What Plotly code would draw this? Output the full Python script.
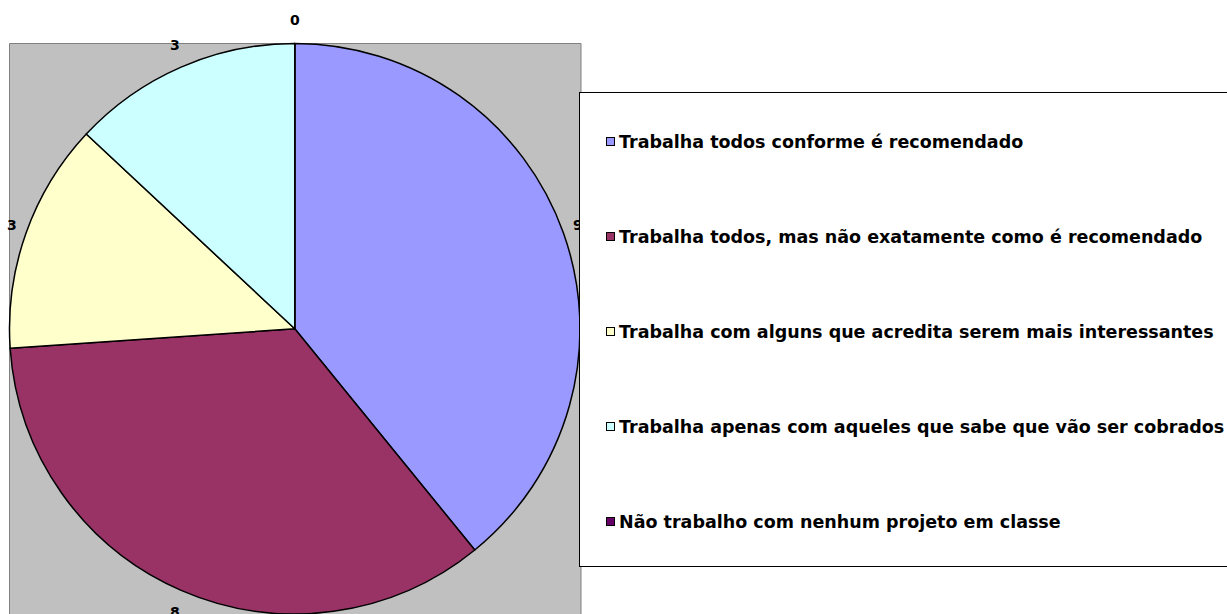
import math
import plotly.graph_objects as go

W, H = 1227, 614

categories = [
    "Trabalha todos conforme é recomendado",
    "Trabalha todos, mas não exatamente como é recomendado",
    "Trabalha com alguns que acredita serem mais interessantes",
    "Trabalha apenas com aqueles que sabe que vão ser cobrados",
    "Não trabalho com nenhum projeto em classe",
]
values = [9, 8, 3, 3, 0]
colors = ["#9999FF", "#993366", "#FFFFCC", "#CCFFFF", "#660066"]

# plot-area geometry (pixels)
PA_L, PA_R, PA_T = 9.5, 581.0, 43.5
dom_x = [8.5 / W, 581.0 / W]
dom_y = [0.0, 1 - 43.5 / H]
R = min((dom_x[1] - dom_x[0]) * W, (dom_y[1] - dom_y[0]) * H) / 2
CX = (dom_x[0] + dom_x[1]) / 2 * W
CY = (1 - (dom_y[0] + dom_y[1]) / 2) * H

fig = go.Figure()
fig.add_trace(go.Pie(
    labels=categories,
    values=values,
    sort=False,
    direction="clockwise",
    rotation=0,
    marker=dict(colors=colors, line=dict(color="#000000", width=1.5)),
    textinfo="none",
    hoverinfo="label+value",
    domain=dict(x=dom_x, y=dom_y),
    showlegend=False,
))

annotations = []
# data labels placed along each slice's mid-angle, just outside the pie
total = sum(values)
cum = 0
lab_font = dict(family="DejaVu Sans", size=14, color="#000000")
for v in values:
    mid = (cum + v / 2) / total * 2 * math.pi
    cum += v
    px = CX + (R + 15) * math.sin(mid)
    py = CY - (R + 24) * math.cos(mid)
    annotations.append(dict(
        x=px / W, y=1 - py / H, xref="paper", yref="paper",
        text=f"<b>{v}</b>", showarrow=False, font=lab_font,
        xanchor="center", yanchor="middle",
    ))

# legend box (drawn after labels so it overlaps them, as in the original)
LG_L, LG_T, LG_B = 578.5, 91.5, 566.5
annotations.append(dict(
    x=LG_L / W, y=1 - LG_T / H, xref="paper", yref="paper",
    xanchor="left", yanchor="top", text=" ", showarrow=False,
    width=700, height=LG_B - LG_T - 2, borderpad=0,
    bgcolor="#FFFFFF", bordercolor="#000000", borderwidth=1,
))
leg_font = dict(family="DejaVu Sans", size=17.5, color="#000000")
for i, (cat, col) in enumerate(zip(categories, colors)):
    yc = 141.5 + 95 * i
    annotations.append(dict(
        x=610 / W, y=1 - yc / H, xref="paper", yref="paper",
        xanchor="center", yanchor="middle", text=" ", showarrow=False,
        width=7, height=7, borderpad=0, font=dict(size=4),
        bgcolor=col, bordercolor="#000000", borderwidth=1,
    ))
    annotations.append(dict(
        x=617 / W, y=1 - yc / H, xref="paper", yref="paper",
        xanchor="left", yanchor="middle", text=f"<b>{cat}</b>",
        showarrow=False, font=leg_font,
    ))

fig.update_layout(
    width=W, height=H,
    margin=dict(l=0, r=0, t=0, b=0),
    paper_bgcolor="#FFFFFF",
    plot_bgcolor="#FFFFFF",
    showlegend=False,
    shapes=[dict(
        type="rect", xref="paper", yref="paper",
        x0=PA_L / W, x1=PA_R / W, y0=-0.01, y1=1 - PA_T / H,
        fillcolor="#C0C0C0", line=dict(color="#808080", width=1),
        layer="below",
    )],
    annotations=annotations,
)

fig.write_html(
    "out.html",
    config={"displayModeBar": False},
    post_script="document.body.style.margin='0px';",
)
